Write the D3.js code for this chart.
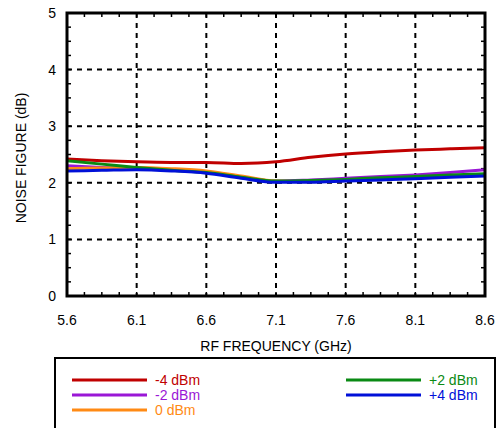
<!DOCTYPE html>
<html><head><meta charset="utf-8">
<script src="https://cdn.jsdelivr.net/npm/d3@7"></script>
<style>body{margin:0;background:#fff}svg{display:block;font-family:"Liberation Sans",Arial,sans-serif}</style>
</head><body><svg id="c" width="499" height="428"></svg>
<script>
const freqs = [5.6, 5.85, 6.1, 6.35, 6.6, 6.85, 7.1, 7.35, 7.6, 7.85, 8.1, 8.35, 8.6];
const nfM4 = [2.42, 2.39, 2.37, 2.36, 2.36, 2.34, 2.37, 2.45, 2.51, 2.55, 2.58, 2.60, 2.62];
const nfM2 = [2.30, 2.27, 2.25, 2.23, 2.19, 2.10, 2.03, 2.05, 2.08, 2.11, 2.14, 2.18, 2.23];
const nf0  = [2.25, 2.26, 2.27, 2.25, 2.21, 2.12, 2.03, 2.02, 2.04, 2.07, 2.10, 2.12, 2.14];
const nfP2 = [2.39, 2.33, 2.27, 2.22, 2.18, 2.10, 2.03, 2.04, 2.06, 2.09, 2.11, 2.14, 2.16];
const nfP4 = [2.21, 2.22, 2.23, 2.21, 2.17, 2.08, 2.01, 2.01, 2.03, 2.05, 2.07, 2.10, 2.12];
const seriesNames = ["-4 dBm", "-2 dBm", "0 dBm", "+2 dBm", "+4 dBm"];
const seriesColors = ["#c00000", "#9a17d6", "#ff8a14", "#0a8a14", "#0010d8"];
const xTicks = [5.6, 6.1, 6.6, 7.1, 7.6, 8.1, 8.6];
const yTicks = [0, 1, 2, 3, 4, 5];

const seriesVals = [nfM4, nfM2, nf0, nfP2, nfP4];
const svg = d3.select("#c");
const L = 67, R = 485, T = 13, B = 296;
const x = d3.scaleLinear().domain([5.6, 8.6]).range([L, R]);
const y = d3.scaleLinear().domain([0, 5]).range([B, T]);

// grid
const g = svg.append("g");
g.selectAll(".vg").data(xTicks.slice(1, -1)).join("line")
  .attr("x1", d => x(d)).attr("x2", d => x(d)).attr("y1", T).attr("y2", B)
  .attr("stroke", "#000").attr("stroke-width", 2).attr("stroke-dasharray", "5,5");
g.selectAll(".hg").data(yTicks.slice(1, -1)).join("line")
  .attr("y1", d => y(d)).attr("y2", d => y(d)).attr("x1", L).attr("x2", R)
  .attr("stroke", "#000").attr("stroke-width", 2).attr("stroke-dasharray", "5,5");

// minor ticks
const xMinor = d3.range(5.6, 8.6001, 0.125);
const yMinor = d3.range(0, 5.0001, 0.25);
const tk = svg.append("g").attr("stroke", "#000").attr("stroke-width", 1.5);
xMinor.forEach(v => {
  tk.append("line").attr("x1", x(v)).attr("x2", x(v)).attr("y1", B).attr("y2", B - 4);
  tk.append("line").attr("x1", x(v)).attr("x2", x(v)).attr("y1", T).attr("y2", T + 4);
});
yMinor.forEach(v => {
  tk.append("line").attr("y1", y(v)).attr("y2", y(v)).attr("x1", L).attr("x2", L + 4);
  tk.append("line").attr("y1", y(v)).attr("y2", y(v)).attr("x1", R).attr("x2", R - 4);
});

// lines
const line = d3.line().x((d, i) => x(freqs[i])).y(d => y(d)).curve(d3.curveMonotoneX);
seriesVals.forEach((vals, k) => {
  svg.append("path").datum(vals).attr("d", line).attr("fill", "none")
    .attr("stroke", seriesColors[k]).attr("stroke-width", 3);
});

// frame
svg.append("rect").attr("x", L).attr("y", T).attr("width", R - L).attr("height", B - T)
  .attr("fill", "none").attr("stroke", "#000").attr("stroke-width", 3);

// tick labels
svg.selectAll(".xl").data(xTicks).join("text")
  .attr("x", d => x(d)).attr("y", 325).attr("text-anchor", "middle")
  .attr("font-size", 14).text(d => d3.format(".1f")(d));
svg.selectAll(".yl").data(yTicks).join("text")
  .attr("x", 56).attr("y", d => y(d) + 5).attr("text-anchor", "end")
  .attr("font-size", 14).text(d => d);

// axis titles
svg.append("text").attr("x", 276).attr("y", 351).attr("text-anchor", "middle")
  .attr("font-size", 14).text("RF FREQUENCY (GHz)");
svg.append("text").attr("transform", "translate(26,158) rotate(-90)")
  .attr("text-anchor", "middle").attr("font-size", 14).text("NOISE FIGURE (dB)");

// legend
svg.append("rect").attr("x", 55).attr("y", 358).attr("width", 440).attr("height", 90)
  .attr("fill", "#fff").attr("stroke", "#000").attr("stroke-width", 2);
const legPos = [[72, 380], [72, 395], [72, 410], [346, 380], [346, 395]];
seriesNames.forEach((n, k) => {
  const [lx, ly] = legPos[k];
  svg.append("line").attr("x1", lx).attr("x2", lx + 75).attr("y1", ly).attr("y2", ly)
    .attr("stroke", seriesColors[k]).attr("stroke-width", 3);
  svg.append("text").attr("x", lx + 83).attr("y", ly + 5).attr("font-size", 14)
    .attr("fill", seriesColors[k]).text(n);
});
</script></body></html>
